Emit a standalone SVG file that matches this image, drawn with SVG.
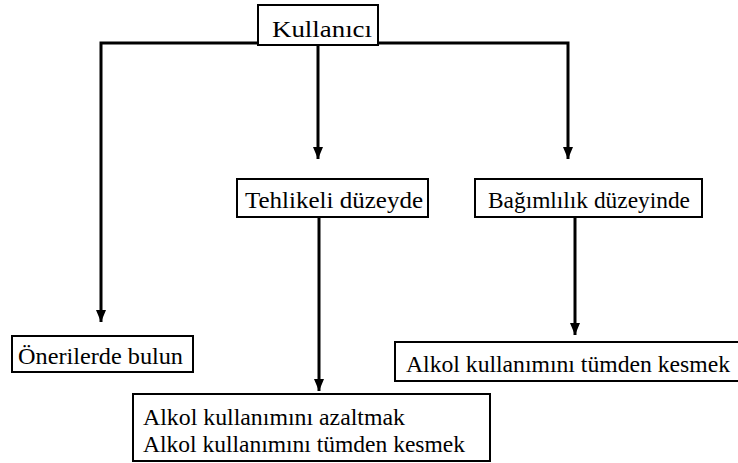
<svg xmlns="http://www.w3.org/2000/svg" width="738" height="463" viewBox="0 0 738 463">
<style>
.box{fill:#fff;stroke:#000;stroke-width:2}
.t{font-family:'Liberation Serif','DejaVu Serif',serif;font-size:24px;fill:#000}
.c{fill:none;stroke:#000;stroke-width:3}
</style>
<rect width="738" height="463" fill="#fff"/>
<g id="connectors">
<path class="c" d="M101,322 V43 H258"/>
<path class="c" d="M378,43 H568 V159"/>
<path class="c" d="M318,45 V159"/>
<path class="c" d="M319,217 V391"/>
<path class="c" d="M575,217 V335"/>
<path d="M96,310 L106,310 L101,322 Z M313,147 L323,147 L318,159 Z M563,147 L573,147 L568,159 Z M314,379 L324,379 L319,391 Z M570,323 L580,323 L575,335 Z" fill="#000"/>
</g>
<g id="kullanici">
<rect class="box" x="258" y="5" width="120" height="40"/>
<text class="t" x="272" y="37" textLength="100" lengthAdjust="spacingAndGlyphs">Kullanıcı</text>
</g>
<g id="tehlikeli">
<rect class="box" x="237" y="179" width="191" height="38"/>
<text class="t" x="245" y="208" textLength="178" lengthAdjust="spacingAndGlyphs">Tehlikeli düzeyde</text>
</g>
<g id="bagimlilik">
<rect class="box" x="475" y="179" width="227" height="38"/>
<text class="t" x="488" y="208" textLength="202" lengthAdjust="spacingAndGlyphs">Bağımlılık düzeyinde</text>
</g>
<g id="oneriler">
<rect class="box" x="12" y="336" width="181" height="36"/>
<text class="t" x="18" y="364" textLength="165" lengthAdjust="spacingAndGlyphs">Önerilerde bulun</text>
</g>
<g id="kesmek">
<rect class="box" x="395" y="342" width="345" height="39"/>
<text class="t" x="406" y="372" textLength="324" lengthAdjust="spacingAndGlyphs">Alkol kullanımını tümden kesmek</text>
</g>
<g id="azaltmak">
<rect class="box" x="133" y="394" width="357" height="67"/>
<text class="t" x="143" y="425" textLength="262" lengthAdjust="spacingAndGlyphs">Alkol kullanımını azaltmak</text>
<text class="t" x="143" y="452" textLength="322" lengthAdjust="spacingAndGlyphs">Alkol kullanımını tümden kesmek</text>
</g>
</svg>
